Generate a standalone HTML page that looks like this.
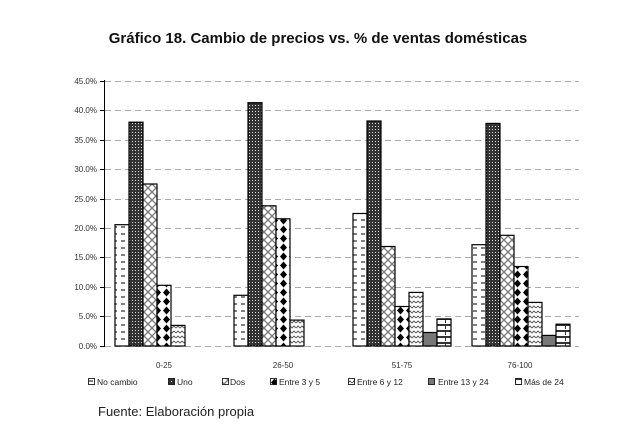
<!DOCTYPE html>
<html><head><meta charset="utf-8"><style>
body{margin:0;background:#fff;width:631px;height:428px;overflow:hidden}
svg{display:block}
text{font-family:"Liberation Sans",sans-serif}
</style></head><body>
<svg width="631" height="428" viewBox="0 0 631 428">
<defs>
<pattern id="p0" width="8" height="7" patternUnits="userSpaceOnUse"><rect width="8" height="7" fill="#fff"/><line x1="1" y1="3" x2="5" y2="3" stroke="#000" stroke-width="1"/></pattern>
<pattern id="p1" width="3" height="3" patternUnits="userSpaceOnUse"><rect width="3" height="3" fill="#333"/><rect width="1" height="1" fill="#ddd"/></pattern>
<pattern id="p2" width="8" height="8" patternUnits="userSpaceOnUse"><rect width="8" height="8" fill="#fff"/><path d="M0 0L8 8M8 0L0 8" stroke="#777" stroke-width="1.3"/></pattern>
<pattern id="p3" width="9" height="9" patternUnits="userSpaceOnUse"><rect width="9" height="9" fill="#fff"/><path d="M4.5 0.5L8 4.5L4.5 8.5L1 4.5Z" fill="#000"/></pattern>
<pattern id="p4" width="8" height="5" patternUnits="userSpaceOnUse"><rect width="8" height="5" fill="#fff"/><path d="M0 3L2 1L4 3L6 1L8 3" stroke="#555" fill="none" stroke-width="0.9"/></pattern>
<pattern id="p6" width="10" height="6" patternUnits="userSpaceOnUse"><rect width="10" height="6" fill="#fff"/><rect x="0" y="0" width="10" height="2" fill="#333"/><rect x="5" y="2" width="1" height="3" fill="#333"/></pattern>
</defs>
<text x="318" y="43" text-anchor="middle" font-size="15" font-weight="bold" fill="#111">Gráfico 18. Cambio de precios vs. % de ventas domésticas</text>
<g stroke="#aaa" stroke-dasharray="6,4" stroke-width="1">
<line x1="105" x2="579" y1="81.5" y2="81.5"/><line x1="105" x2="579" y1="110.5" y2="110.5"/><line x1="105" x2="579" y1="140.5" y2="140.5"/><line x1="105" x2="579" y1="169.5" y2="169.5"/><line x1="105" x2="579" y1="199.5" y2="199.5"/><line x1="105" x2="579" y1="228.5" y2="228.5"/><line x1="105" x2="579" y1="257.5" y2="257.5"/><line x1="105" x2="579" y1="287.5" y2="287.5"/><line x1="105" x2="579" y1="316.5" y2="316.5"/><line x1="105" x2="579" y1="346.5" y2="346.5"/>
</g>
<g font-size="8" fill="#333" text-anchor="end">
<text x="97" y="84">45.0%</text><text x="97" y="113">40.0%</text><text x="97" y="143">35.0%</text><text x="97" y="172">30.0%</text><text x="97" y="202">25.0%</text><text x="97" y="231">20.0%</text><text x="97" y="260">15.0%</text><text x="97" y="290">10.0%</text><text x="97" y="319">5.0%</text><text x="97" y="349">0.0%</text>
</g>
<g stroke="#000" stroke-width="1.2">
<rect x="115" y="224.7" width="14" height="121.3" fill="url(#p0)"/>
<rect x="129" y="122.2" width="14" height="223.8" fill="url(#p1)"/>
<rect x="143" y="184" width="14" height="162" fill="url(#p2)"/>
<rect x="157" y="285.3" width="14" height="60.7" fill="url(#p3)"/>
<rect x="171" y="325.4" width="14" height="20.6" fill="url(#p4)"/>
<rect x="234" y="295.3" width="14" height="50.7" fill="url(#p0)"/>
<rect x="248" y="102.7" width="14" height="243.3" fill="url(#p1)"/>
<rect x="262" y="205.8" width="14" height="140.2" fill="url(#p2)"/>
<rect x="276" y="218.8" width="14" height="127.2" fill="url(#p3)"/>
<rect x="290" y="320.1" width="14" height="25.9" fill="url(#p4)"/>
<rect x="353" y="213.5" width="14" height="132.5" fill="url(#p0)"/>
<rect x="367" y="121" width="14" height="225" fill="url(#p1)"/>
<rect x="381" y="246.5" width="14" height="99.5" fill="url(#p2)"/>
<rect x="395" y="306.5" width="14" height="39.5" fill="url(#p3)"/>
<rect x="409" y="292.4" width="14" height="53.6" fill="url(#p4)"/>
<rect x="423" y="332.5" width="14" height="13.5" fill="#777"/>
<rect x="437" y="318.9" width="14" height="27.1" fill="url(#p6)"/>
<rect x="472" y="244.7" width="14" height="101.3" fill="url(#p0)"/>
<rect x="486" y="123.4" width="14" height="222.6" fill="url(#p1)"/>
<rect x="500" y="235.3" width="14" height="110.7" fill="url(#p2)"/>
<rect x="514" y="266.5" width="14" height="79.5" fill="url(#p3)"/>
<rect x="528" y="302.4" width="14" height="43.6" fill="url(#p4)"/>
<rect x="542" y="335.4" width="14" height="10.6" fill="#777"/>
<rect x="556" y="324.2" width="14" height="21.8" fill="url(#p6)"/>
</g>
<line x1="104.5" y1="80" x2="104.5" y2="347" stroke="#000" stroke-width="1"/>
<g stroke="#000"><line x1="100" x2="105" y1="81.5" y2="81.5"/><line x1="100" x2="105" y1="110.5" y2="110.5"/><line x1="100" x2="105" y1="140.5" y2="140.5"/><line x1="100" x2="105" y1="169.5" y2="169.5"/><line x1="100" x2="105" y1="199.5" y2="199.5"/><line x1="100" x2="105" y1="228.5" y2="228.5"/><line x1="100" x2="105" y1="257.5" y2="257.5"/><line x1="100" x2="105" y1="287.5" y2="287.5"/><line x1="100" x2="105" y1="316.5" y2="316.5"/><line x1="100" x2="105" y1="346.5" y2="346.5"/></g>
<g font-size="8" fill="#333" text-anchor="middle">
<text x="164" y="368">0-25</text><text x="283" y="368">26-50</text><text x="402" y="368">51-75</text><text x="520" y="368">76-100</text>
</g>
<g font-size="8.5" fill="#222" stroke="#000" stroke-width="0.8">
<rect x="88.5" y="378.5" width="6" height="6" fill="url(#p0)"/>
<rect x="168.5" y="378.5" width="6" height="6" fill="url(#p1)"/>
<rect x="222.5" y="378.5" width="6" height="6" fill="url(#p2)"/>
<rect x="270.5" y="378.5" width="6" height="6" fill="url(#p3)"/>
<rect x="348.5" y="378.5" width="6" height="6" fill="url(#p4)"/>
<rect x="428.5" y="378.5" width="6" height="6" fill="#777"/>
<rect x="515.5" y="378.5" width="6" height="6" fill="url(#p6)"/>
</g>
<g font-size="8.5" fill="#222">
<text x="97" y="385">No cambio</text><text x="177" y="385">Uno</text><text x="230" y="385">Dos</text><text x="279" y="385">Entre 3 y 5</text><text x="357" y="385">Entre 6 y 12</text><text x="438" y="385">Entre 13 y 24</text><text x="524" y="385">Más de 24</text>
</g>
<text x="98" y="416" font-size="13" fill="#222">Fuente: Elaboración propia</text>
</svg>
</body></html>
